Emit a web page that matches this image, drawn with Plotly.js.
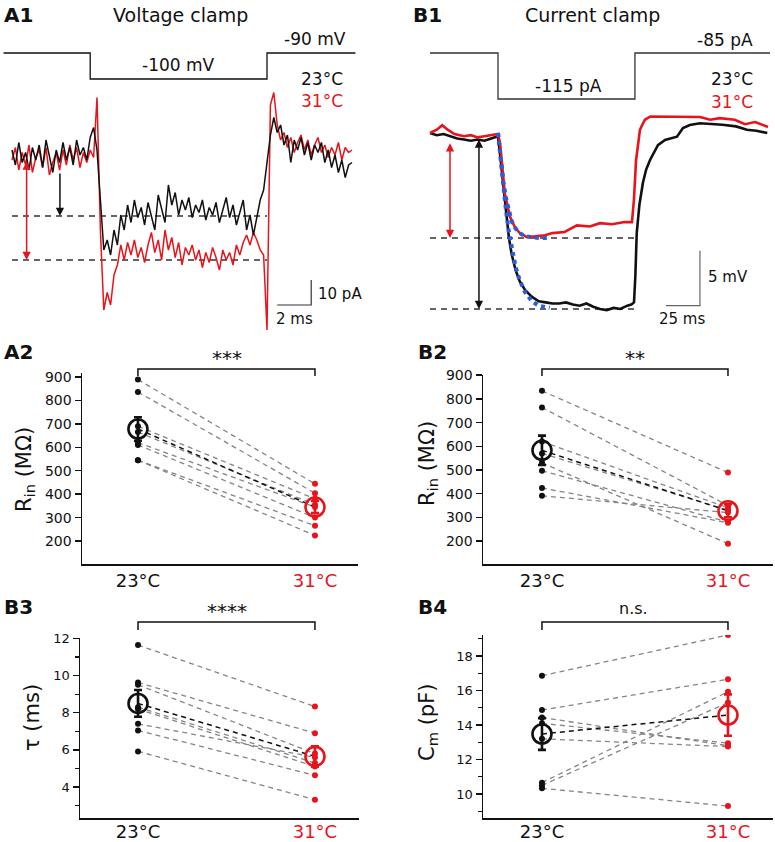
<!DOCTYPE html>
<html>
<head>
<meta charset="utf-8">
<script src="https://cdn.plot.ly/plotly-3.0.1.min.js"></script>
<style>
  body { margin: 0; background: #fff; }
  #fig { width: 775px; height: 842px; }
</style>
</head>
<body>
<div id="fig"></div>
<script>
// ---- A1: voltage clamp currents (pA), one sample every 0.2 ms, 0..20 ms
const a1Dt = 0.2;
const a1Black = [
  2, -4, 5, -3, 1, -6, 3, -2, 4, -5,
  6, -1, -7, 2, -3, 5, -2, 3, -4, 6,
  0, 3, -2, 7, 11, 2, -18, -38, -34, -40,
  -30, -36, -24, -30, -20, -27, -18, -25, -21, -28,
  -19, -24, -30, -16, -22, -27, -12, -20, -15, -24,
  -18, -22, -17, -25, -20, -23, -18, -26, -21, -24,
  -19, -27, -22, -17, -25, -20, -28, -23, -18, -30,
  -24, -32, -25, -18, -14, -4, 8, 15, 9, 12,
  4, 8, -3, 6, 2, 7, 0, 5, -2, 4,
  1, 5, -3, 2, -5, 0, -7, -2, -9, -4,
  -3
];
const a1Red = [
  -2, 3, -6, 1, -4, 4, -7, -1, 2, -5,
  3, -8, -3, 1, -6, 2, -4, 4, -2, 3,
  -5, 1, -3, 2, -1, 23, -30, -62, -55, -60,
  -48, -44, -36, -42, -35, -40, -34, -41, -37, -43,
  -36, -31, -39, -34, -42, -30, -38, -33, -41, -35,
  -44, -37, -40, -36, -42, -38, -45, -39, -43, -37,
  -41, -46, -38, -42, -39, -44, -36, -40, -35, -32,
  -36, -31, -34, -38, -40, -70, 20, 25, 12, 6,
  9, 3, 7, 1, 5, 8, 2, 6, 0, 4,
  7, 1, 4, -1, 3, 0, 5, -2, 3, 1,
  2
];
const a1CmdT = [-0.5, 4.6, 4.6, 15.0, 15.0, 20.2];
const a1CmdV = [-90, -90, -100, -100, -90, -90];
const a1Levels = [-24.4, -42];          // black, red steady-state
const a1LevelEnd = 15;

// ---- B1: current clamp voltage (mV, relative to rest)
const b1BlackT = [0,5,10,15,20,25,30,35,40,45,50,52,54,56,58,60,63,66,70,75,80,85,90,95,100,105,110,115,120,125,130,135,140,145,148,150,151,152,154,156.6,159,161.8,167.6,172.8,181.6,186,191,198.5,205,215,225,233,240,248];
const b1BlackV = [0,-0.2,-0.1,-0.3,-0.5,-0.6,-0.7,-0.6,-0.7,-0.5,-0.3,-2.5,-5.0,-7.5,-9.5,-11.0,-12.5,-13.5,-14.3,-14.9,-15.3,-15.4,-15.5,-15.5,-15.4,-15.6,-15.7,-15.5,-15.8,-16.0,-16.1,-15.9,-16.0,-15.7,-15.6,-15.4,-13,-9.1,-6.5,-4.5,-3.3,-2.45,-1.1,-0.64,-0.34,0.45,0.73,0.88,0.85,0.75,0.6,0.3,0.2,0.0];
const b1RedT = [0,5,9,13,18,25,30,35,40,45,50,51.5,55,58.8,62.5,66,71,77,84.6,90,99,108,117.6,125,134,143,148.5,150,151.5,154.4,158,162,173,184,198.5,206,213,224,231.6,239,248.5];
const b1RedV = [0,0.3,0.7,0.3,-0.1,-0.3,-0.2,-0.4,-0.3,-0.2,-0.1,-0.9,-5.5,-7.6,-8.6,-9.1,-9.45,-9.4,-9.3,-9.1,-9.0,-8.4,-8.5,-8.2,-8.3,-8.1,-8.1,-6,-2.5,0.3,1.2,1.5,1.5,1.45,1.45,1.2,1.35,1.2,0.8,1.0,0.55];
const b1FitT = [50,52,54,56,58,60,63,66,70,75,80,88];
const b1FitRed = [0,-2.3,-4.5,-6.0,-7.2,-8.0,-8.7,-9.1,-9.4,-9.5,-9.55,-9.55];
const b1FitBlack = [0,-2.6,-5.0,-7.2,-9.0,-10.5,-12.2,-13.4,-14.5,-15.3,-15.7,-15.9];
const b1CmdT = [0, 50, 50, 150.7, 150.7, 250];
const b1CmdI = [-85, -85, -115, -115, -85, -85];
const b1Levels = [-16.0, -9.55];        // black, red peak
const b1LevelEnd = 150;

// ---- paired cell values, 23°C and 31°C
const tempLabels = ['23°C', '31°C'];
const a2Rin23 = [889, 836, 690, 665, 620, 610, 545, 545];
const a2Rin31 = [444, 404, 380, 355, 345, 300, 265, 224];
const a2Mean = [678, 345];
const a2Sem = [50, 26];

const b2Rin23 = [834, 764, 620, 570, 530, 497, 424, 391];
const b2Rin31 = [489, 350, 340, 330, 189, 280, 277, 320];
const b2Mean = [583, 328];
const b2Sem = [62, 28];

const b3Tau23 = [11.64, 9.62, 9.5, 8.3, 8.2, 7.4, 7.05, 5.92];
const b3Tau31 = [8.33, 6.9, 5.8, 5.3, 5.1, 5.6, 4.63, 3.32];
const b3Mean = [8.5, 5.65];
const b3Sem = [0.72, 0.55];

const b4Cm23 = [16.86, 14.87, 14.44, 14.1, 13.2, 10.66, 10.5, 10.33];
const b4Cm31 = [19.22, 16.65, 12.8, 12.95, 12.75, 15.93, 15.3, 9.3];
const b4Mean = [13.48, 14.58];
const b4Sem = [0.92, 1.2];

const RED = '#e8141b';
const BLACK = '#111111';
const FONT = 'DejaVu Sans';
const W = 775, H = 842;
const px = x => x / W;
const py = y => 1 - y / H;

const traces = [];

// A1 traces
traces.push({ x: [0, a1LevelEnd, null, 0, a1LevelEnd], y: [a1Levels[0], a1Levels[0], null, a1Levels[1], a1Levels[1]],
  mode: 'lines', line: { color: '#333', width: 1.5, dash: '6px,5px' }, xaxis: 'x', yaxis: 'y', hoverinfo: 'skip' });
traces.push({ y: a1Red, x0: 0, dx: a1Dt, mode: 'lines', line: { color: RED, width: 1.5 }, xaxis: 'x', yaxis: 'y' });
traces.push({ y: a1Black, x0: 0, dx: a1Dt, mode: 'lines', line: { color: BLACK, width: 1.5 }, xaxis: 'x', yaxis: 'y' });
traces.push({ x: a1CmdT, y: a1CmdV, mode: 'lines', line: { color: BLACK, width: 1.3 }, xaxis: 'x', yaxis: 'y2' });
traces.push({ x: [15.6, 17.6, 17.6], y: [-60, -60, -50], mode: 'lines', line: { color: '#333', width: 1.2 }, xaxis: 'x', yaxis: 'y' });

// B1 traces
traces.push({ x: [0, b1LevelEnd, null, 0, b1LevelEnd], y: [b1Levels[0], b1Levels[0], null, b1Levels[1], b1Levels[1]],
  mode: 'lines', line: { color: '#333', width: 1.5, dash: '6px,5px' }, xaxis: 'x2', yaxis: 'y3' });
traces.push({ x: b1BlackT, y: b1BlackV, mode: 'lines', line: { color: BLACK, width: 2.6 }, xaxis: 'x2', yaxis: 'y3' });
traces.push({ x: b1RedT, y: b1RedV, mode: 'lines', line: { color: RED, width: 2.6 }, xaxis: 'x2', yaxis: 'y3' });
traces.push({ x: b1FitT, y: b1FitRed, mode: 'lines', line: { color: '#2a5be0', width: 4, dash: 'dot' }, xaxis: 'x2', yaxis: 'y3' });
traces.push({ x: b1FitT, y: b1FitBlack, mode: 'lines', line: { color: '#2a5be0', width: 4, dash: 'dot' }, xaxis: 'x2', yaxis: 'y3' });
traces.push({ x: b1CmdT, y: b1CmdI, mode: 'lines', line: { color: '#333', width: 1.3 }, xaxis: 'x2', yaxis: 'y4' });
traces.push({ x: [173.5, 198.5, 198.5], y: [-15.7, -15.7, -10.7], mode: 'lines', line: { color: '#666', width: 1.2 }, xaxis: 'x2', yaxis: 'y3' });

// paired panels
function pairedPanel(xa, ya, v23, v31, mean, sem) {
  const lx = [], ly = [];
  v23.forEach((v, i) => { lx.push(0, 1, null); ly.push(v, v31[i], null); });
  return [
    { x: lx, y: ly, mode: 'lines', line: { color: 'rgba(120,120,120,0.9)', width: 1.3, dash: '5px,4px' }, xaxis: xa, yaxis: ya },
    { x: [0, 1], y: mean, mode: 'lines', line: { color: BLACK, width: 1.5, dash: '5px,4px' }, xaxis: xa, yaxis: ya },
    { x: v23.map(() => 0), y: v23, mode: 'markers', marker: { color: BLACK, size: 6 }, xaxis: xa, yaxis: ya },
    { x: v31.map(() => 1), y: v31, mode: 'markers', marker: { color: RED, size: 6 }, xaxis: xa, yaxis: ya },
    { x: [0], y: [mean[0]], mode: 'markers', xaxis: xa, yaxis: ya,
      marker: { symbol: 'circle-open', size: 19, color: BLACK, line: { width: 2.6, color: BLACK } },
      error_y: { type: 'data', array: [sem[0]], color: BLACK, thickness: 2.6, width: 4 } },
    { x: [1], y: [mean[1]], mode: 'markers', xaxis: xa, yaxis: ya,
      marker: { symbol: 'circle-open', size: 19, color: RED, line: { width: 2.6, color: RED } },
      error_y: { type: 'data', array: [sem[1]], color: RED, thickness: 2.6, width: 4 } }
  ];
}
traces.push(...pairedPanel('x3', 'y5', a2Rin23, a2Rin31, a2Mean, a2Sem));
traces.push(...pairedPanel('x4', 'y6', b2Rin23, b2Rin31, b2Mean, b2Sem));
traces.push(...pairedPanel('x5', 'y7', b3Tau23, b3Tau31, b3Mean, b3Sem));
traces.push(...pairedPanel('x6', 'y8', b4Cm23, b4Cm31, b4Mean, b4Sem));

function hidden(domain, range, anchor) {
  return { domain, range, anchor, visible: false, showgrid: false, zeroline: false, fixedrange: true };
}
function catAxis(x0, x1, range, anchor, standoff) {
  return {
    domain: [px(x0), px(x1)], range, anchor,
    showline: true, linecolor: BLACK, linewidth: 1.5, ticks: '',
    tickmode: 'array', tickvals: [0, 1],
    ticktext: [tempLabels[0], '<span style="color:' + RED + '">' + tempLabels[1] + '</span>'],
    tickfont: { family: FONT, size: 18, color: BLACK },
    ticklabelstandoff: standoff,
    showgrid: false, zeroline: false
  };
}
function valAxis(yTop, yBot, range, anchor, dtick, fontSize, minor) {
  const ax = {
    domain: [py(yBot), py(yTop)], range, anchor,
    showline: true, linecolor: BLACK, linewidth: 1.5,
    ticks: 'outside', ticklen: 6, tickwidth: 1.5, tickcolor: BLACK,
    tick0: 0, dtick, tickfont: { family: FONT, size: fontSize, color: BLACK },
    showgrid: false, zeroline: false
  };
  if (minor) ax.minor = { ticks: 'outside', ticklen: 4, tickwidth: 1.2, tickcolor: BLACK, dtick: 1, showgrid: false };
  return ax;
}

const layout = {
  width: W, height: H,
  margin: { l: 0, r: 0, t: 0, b: 0 },
  paper_bgcolor: 'white', plot_bgcolor: 'rgba(0,0,0,0)',
  showlegend: false,
  font: { family: FONT, color: BLACK },
  xaxis: hidden([0, px(360)], [-0.706, 20.47], 'y'),
  yaxis: hidden([py(335), py(85)], [-72, 28], 'x'),
  yaxis2: hidden([py(90), py(40)], [-104.23, -85], 'x'),
  xaxis2: hidden([px(390), 1], [-29.41, 253.68], 'y3'),
  yaxis3: hidden([py(330), py(105)], [-17.91, 2.545], 'x2'),
  yaxis4: hidden([py(110), py(40)], [-122.17, -76.52], 'x2'),
  xaxis3: catAxis(82, 358, [-0.316, 1.243], 'y5', 0),
  yaxis5: valAxis(373, 564, [102, 917], 'x3', 100, 14, false),
  xaxis4: catAxis(483, 773, [-0.317, 1.242], 'y6', 0),
  yaxis6: valAxis(375, 564, [103, 901], 'x4', 100, 14, false),
  xaxis5: catAxis(80, 359, [-0.328, 1.249], 'y7', -3),
  yaxis7: valAxis(638, 818, [2.336, 12.02], 'x5', 2, 13, true),
  xaxis6: catAxis(483, 773, [-0.317, 1.242], 'y8', -3),
  yaxis8: valAxis(635, 818, [8.61, 19.22], 'x6', 2, 13, true),
  shapes: [],
  annotations: []
};

// significance brackets
[['x3', 369, 376], ['x4', 369, 376], ['x5', 622, 630], ['x6', 622, 630]].forEach(([xa, yTop, yBot]) => {
  layout.shapes.push({
    type: 'path', xref: xa, yref: 'paper',
    path: `M0,${py(yBot)} L0,${py(yTop)} L1,${py(yTop)} L1,${py(yBot)}`,
    line: { color: BLACK, width: 1.5 }
  });
});

function txt(text, x, y, size, opts = {}) {
  layout.annotations.push(Object.assign({
    text, x: px(x), y: py(y), xref: 'paper', yref: 'paper',
    showarrow: false, xanchor: 'center', yanchor: 'middle',
    font: { family: FONT, size, color: BLACK }
  }, opts));
}
const bold = { font: { family: FONT, size: 20, color: BLACK, weight: 'bold' }, xanchor: 'left' };

txt('<b>A1</b>', 2, 15, 20, bold);
txt('Voltage clamp', 180, 15, 19);
txt('-90 mV', 348, 39, 17, { xanchor: 'right' });
txt('-100 mV', 178, 65, 17);
txt('23°C', 345, 79, 17, { xanchor: 'right' });
txt('31°C', 345, 101, 17, { xanchor: 'right', font: { family: FONT, size: 17, color: RED } });
txt('10 pA', 316, 294, 15, { xanchor: 'left' });
txt('2 ms', 274, 319, 15, { xanchor: 'left' });

txt('<b>B1</b>', 411, 15, 20, bold);
txt('Current clamp', 592, 15, 19);
txt('-85 pA', 755, 40, 17, { xanchor: 'right' });
txt('-115 pA', 568, 86, 17);
txt('23°C', 755, 79, 17, { xanchor: 'right' });
txt('31°C', 755, 102, 17, { xanchor: 'right', font: { family: FONT, size: 17, color: RED } });
txt('5 mV', 706, 277, 15, { xanchor: 'left' });
txt('25 ms', 657, 319, 15, { xanchor: 'left' });

txt('<b>A2</b>', 2, 352, 20, bold);
txt('***', 227, 358, 20);
txt('R<sub>in</sub> (MΩ)', 25, 470, 21, { textangle: -90 });
txt('<b>B2</b>', 416, 352, 20, bold);
txt('**', 635, 358, 20);
txt('R<sub>in</sub> (MΩ)', 428, 464, 21, { textangle: -90 });
txt('<b>B3</b>', 2, 607, 20, bold);
txt('****', 227, 611, 20);
txt('τ (ms)', 32, 718, 21, { textangle: -90 });
txt('<b>B4</b>', 416, 607, 20, bold);
txt('n.s.', 633, 608, 16);
txt('C<sub>m</sub> (pF)', 428, 723, 21, { textangle: -90 });

// amplitude arrows
function arrow(xa, ya, x, yHead, yTail, color, both) {
  layout.annotations.push({
    xref: xa, yref: ya, axref: xa, ayref: ya,
    x, y: yHead, ax: x, ay: yTail, text: '', showarrow: true,
    arrowhead: 2, arrowsize: 1.1, arrowwidth: 1.5, arrowcolor: color,
    arrowside: both ? 'end+start' : 'end', startarrowhead: 2, startarrowsize: 1.1
  });
}
arrow('x', 'y', 2.82, a1Levels[0], -6.8, BLACK, false);
arrow('x', 'y', 0.86, a1Levels[1], -2, RED, true);
arrow('x2', 'y3', 14.7, b1Levels[1], -0.8, RED, true);
arrow('x2', 'y3', 36, b1Levels[0], -0.45, BLACK, true);

Plotly.newPlot('fig', traces, layout, { displayModeBar: false, staticPlot: true });
</script>
</body>
</html>
